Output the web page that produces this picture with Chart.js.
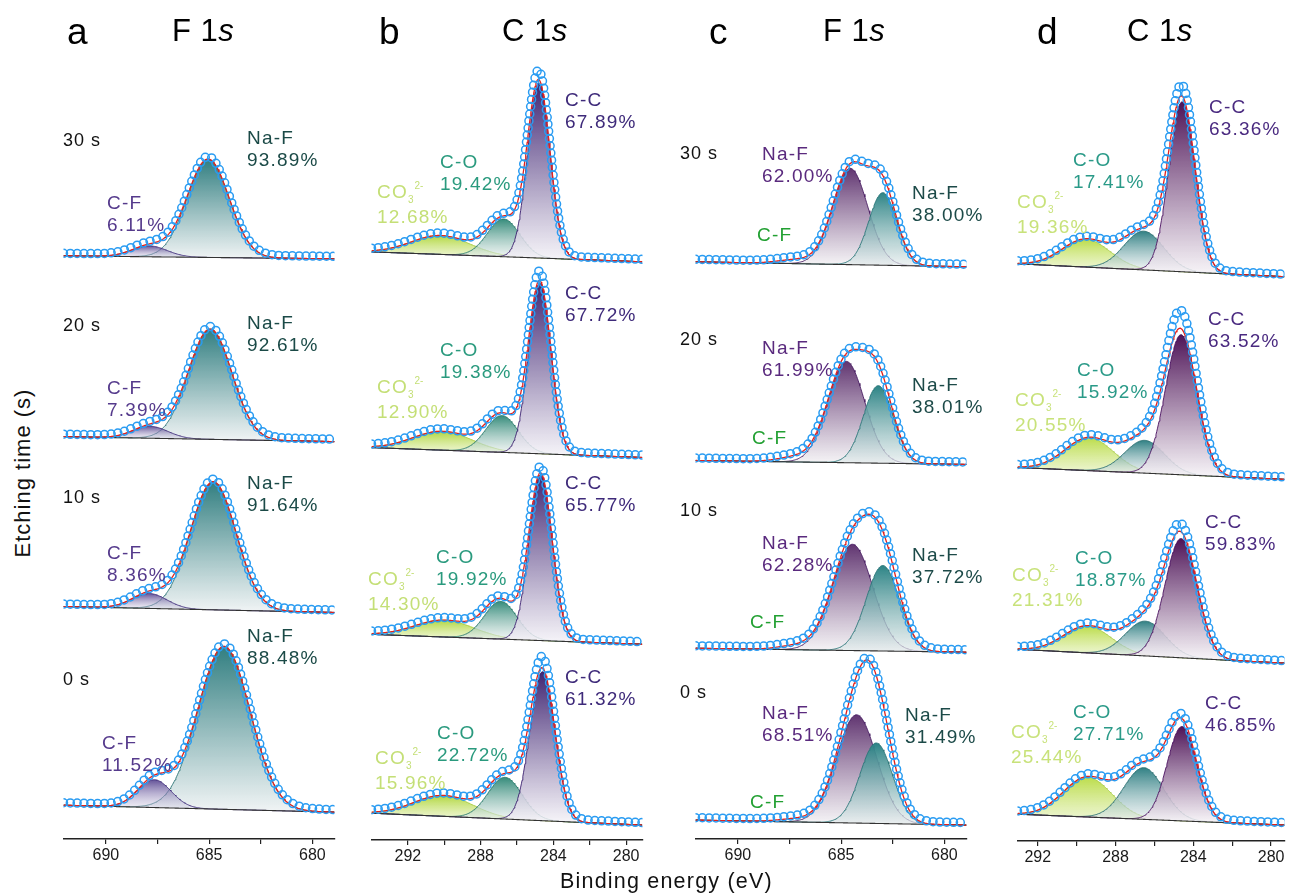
<!DOCTYPE html>
<html>
<head>
<meta charset="utf-8">
<script src="https://cdn.jsdelivr.net/npm/chart.js@4.4.1/dist/chart.umd.min.js"></script>
<style>
  body { margin: 0; background: #fff; width: 1290px; height: 895px; position: relative; overflow: hidden;
         font-family: "Liberation Sans", Arial, sans-serif; }
  .cv { position: absolute; top: 0; }
  .t { position: absolute; white-space: nowrap; }
  .lab { font-size: 19px; line-height: 22px; letter-spacing: 1.2px; }
  .time { font-size: 18px; line-height: 22px; letter-spacing: 1px; color: #111; }
  .sb { font-size: 10px; position: relative; top: 5px; letter-spacing: 0; }
  .sp { font-size: 10px; position: relative; top: -9px; letter-spacing: 0; margin-left: 1px; }
</style>
</head>
<body>
<script>
// ---------- panel a : F 1s ----------
const timesA  = ['30 s', '20 s', '10 s', '0 s'];
const bgHighA = [587, 405, 234, 34];      // background at 692 eV
const bgLowA  = [584, 400, 228, 27];      // background at 679 eV
const nafPosA = [685.05, 684.95, 684.8, 684.28];
const nafHtA  = [99, 111, 129, 164];
const nafFwA  = [2.4, 2.48, 2.6, 2.98];
const cfPosA  = [687.9, 687.85, 687.9, 687.65];
const cfHtA   = [11, 12, 15, 28];
const cfFwA   = [2.0, 2.0, 2.0, 1.9];
const nafPctA = ['93.89%', '92.61%', '91.64%', '88.48%'];
const cfPctA  = ['6.11%', '7.39%', '8.36%', '11.52%'];

// ---------- panel b : C 1s ----------
const bgHighB  = [592, 395, 207, 27];     // at 294 eV
const bgLowB   = [582, 385, 197, 15];     // at 279 eV
const ccPosB   = [284.8, 284.75, 284.7, 284.6];
const ccHtB    = [176, 172, 167, 150];
const ccFwB    = [1.45, 1.45, 1.5, 1.62];
const ccPeakB  = [183, 179, 171, 159];    // top of the measured points
const coPosB   = [286.74, 286.83, 286.9, 286.66];
const coHtB    = [38, 37, 38, 42];
const coFwB    = [2.1, 2.1, 2.1, 2.2];
const co3PosB  = [290.2, 290.1, 290.0, 290.05];
const co3HtB   = [19, 19, 17, 21];
const co3FwB   = [3.8, 3.8, 3.8, 3.8];
const ccPctB   = ['67.89%', '67.72%', '65.77%', '61.32%'];
const coPctB   = ['19.42%', '19.38%', '19.92%', '22.72%'];
const co3PctB  = ['12.68%', '12.90%', '14.30%', '15.96%'];

// ---------- panel c : F 1s ----------
const timesC   = ['30 s', '20 s', '10 s', '0 s'];
const bgHighC  = [581, 381, 192, 19];
const bgLowC   = [576, 377, 188, 14];
const naf1PosC = [684.56, 684.75, 684.45, 684.25];
const naf1HtC  = [97, 102, 107, 109];
const naf1FwC  = [2.0, 2.1, 2.3, 2.3];
const naf2PosC = [682.98, 683.2, 682.98, 683.3];
const naf2HtC  = [73, 78, 86, 81];
const naf2FwC  = [1.6, 1.7, 1.9, 1.86];
const cfPosC   = [687.2, 687.2, 687.2, 687.2];
const cfHtC    = [4, 5, 4, 3];
const cfFwC    = [2.0, 2.0, 2.0, 2.0];
const naf1PctC = ['62.00%', '61.99%', '62.28%', '68.51%'];
const naf2PctC = ['38.00%', '38.01%', '37.72%', '31.49%'];

// ---------- panel d : C 1s ----------
const bgHighD  = [581, 376, 193, 27];
const bgLowD   = [568, 364, 179, 16];
const ccPosD   = [284.58, 284.63, 284.63, 284.58];
const ccHtD    = [171, 141, 120, 95];
const ccFwD    = [1.6, 1.9, 1.95, 1.8];
const ccPeakD  = [180, 157, 126, 97];
const coPosD   = [286.55, 286.5, 286.47, 286.55];
const coHtD    = [39, 33, 35, 52];
const coFwD    = [2.4, 2.4, 2.4, 2.4];
const co3PosD  = [289.52, 289.35, 289.44, 289.44];
const co3HtD   = [28, 33, 27, 40];
const co3FwD   = [2.9, 2.95, 2.9, 2.95];
const ccPctD   = ['63.36%', '63.52%', '59.83%', '46.85%'];
const coPctD   = ['17.41%', '15.92%', '18.87%', '27.71%'];
const co3PctD  = ['19.36%', '20.55%', '21.31%', '25.44%'];

// measured points sit this far above the fitted background (a.u.)
const pointLift = 2.5;

// tick values
const ticksF = [690, 687.5, 685, 682.5, 680];
const labsF  = [690, 685, 680];
const ticksC = [292, 290, 288, 286, 284, 282, 280];
const labsC  = [292, 288, 284, 280];

// component styles
const styles = {
  nafA:  { top: 'rgba(42,122,124,0.97)', bottom: 'rgba(236,241,242,0.9)', line: '#2a7374' },
  cfA:   { top: 'rgba(78,58,138,0.88)',  bottom: 'rgba(205,200,225,0.35)', line: '#3f2d7a' },
  ccB:   { top: 'rgba(58,30,110,0.97)',  bottom: 'rgba(242,240,246,0.85)', line: '#3a1e6e' },
  coB:   { top: 'rgba(36,130,112,0.92)', bottom: 'rgba(228,237,234,0.6)', line: '#2a7a6c' },
  co3B:  { top: 'rgba(176,214,60,0.97)', bottom: 'rgba(226,240,180,0.75)', line: '#a8cc40' },
  naf1C: { top: 'rgba(88,42,105,0.95)',  bottom: 'rgba(242,240,243,0.8)', line: '#4a1f63' },
  naf2C: { top: 'rgba(38,128,130,0.97)', bottom: 'rgba(228,235,236,0.7)', line: '#2a7678' },
  ccD:   { top: 'rgba(72,12,82,0.97)',   bottom: 'rgba(243,239,244,0.85)', line: '#4a1060' },
  coD:   { top: 'rgba(38,122,126,0.95)', bottom: 'rgba(226,234,235,0.6)', line: '#2a6f72' },
  co3D:  { top: 'rgba(186,220,70,0.97)', bottom: 'rgba(228,241,186,0.75)', line: '#a9cc4a' }
};

function gauss(x, c, h, fw) {
  const s = fw / 2.3548, d = (x - c) / s;
  return h * Math.exp(-0.5 * d * d);
}

function drawPanel(left, width, axisY, min, max, tickVals, tickLabs, traces) {
  const cv = document.createElement('canvas');
  cv.width = width; cv.height = 895; cv.className = 'cv'; cv.style.left = left + 'px';
  document.body.appendChild(cv);
  const pxX = width / (max - min);
  const grid = [];
  for (let x = max; x >= min - 1e-9; x -= 0.04) grid.push(x);
  const datasets = [];

  traces.forEach(tr => {
    const bg = x => tr.bgLow + (tr.bgHigh - tr.bgLow) * (x - min) / (max - min);
    const fit = x => bg(x) + tr.comps.reduce((s, c) => s + gauss(x, c.pos, c.ht, c.fw), 0);
    const meas = x => pointLift + bg(x) + tr.comps.reduce((s, c) => s + gauss(x, c.pos, c.peak || c.ht, c.fw), 0);

    const baseIdx = datasets.length;
    datasets.push({ data: grid.map(x => ({ x, y: bg(x) })), borderColor: '#333', borderWidth: 1.1,
                    pointRadius: 0, fill: false, order: 50 });
    tr.comps.forEach((c, j) => {
      if (!c.style) return;
      const st = styles[c.style];
      const yb = bg(c.pos);
      datasets.push({
        data: grid.map(x => ({ x, y: bg(x) + gauss(x, c.pos, c.ht, c.fw) })),
        borderColor: st.line, borderWidth: 0.9, pointRadius: 0, fill: baseIdx, order: 100 - j,
        backgroundColor: ctx => {
          const ch = ctx.chart;
          if (!ch.chartArea) return st.top;
          const ys = ch.scales.y;
          const g = ch.ctx.createLinearGradient(0, ys.getPixelForValue(yb + c.ht), 0, ys.getPixelForValue(yb));
          g.addColorStop(0, st.top); g.addColorStop(1, st.bottom);
          return g;
        }
      });
    });
    datasets.push({ data: grid.map(x => ({ x, y: fit(x) })), borderColor: '#e3211c', borderWidth: 1.3,
                    pointRadius: 0, fill: false, order: 20 });
    // measured points, spaced evenly along the trace
    const pts = [];
    let px = null, py = null, acc = 99;
    for (let x = max; x >= min; x -= 0.005) {
      const y = meas(x);
      if (px !== null) acc += Math.hypot((px - x) * pxX, y - py);
      if (acc >= 7) { pts.push({ x, y }); acc = 0; }
      px = x; py = y;
    }
    datasets.push({ data: pts, showLine: false, pointRadius: 4, pointBorderWidth: 1.5,
                    pointBorderColor: '#2a9cf2', pointBackgroundColor: 'rgba(255,255,255,0)', order: 10 });
  });

  return new Chart(cv, {
    type: 'line',
    data: { datasets },
    options: {
      responsive: false, animation: false, events: [],
      layout: { padding: 0 },
      plugins: { legend: { display: false }, tooltip: { enabled: false } },
      elements: { line: { tension: 0 } },
      scales: {
        x: {
          type: 'linear', reverse: true, min, max,
          afterBuildTicks: ax => { ax.ticks = tickVals.map(v => ({ value: v })); },
          afterFit: ax => { ax.height = 895 - axisY; },
          ticks: { autoSkip: false, maxRotation: 0, padding: 2, color: '#1a1a1a',
                   font: { family: 'Liberation Sans', size: 16 },
                   callback: v => tickLabs.includes(v) ? String(v) : '' },
          grid: { drawOnChartArea: false, drawTicks: true, tickLength: 5, color: '#222', lineWidth: 1.2 },
          border: { display: true, color: '#222', width: 1.5 }
        },
        y: { display: false, min: 0, max: axisY }
      }
    }
  });
}

function comp(pos, ht, fw, style, peak) { return { pos, ht, fw, style, peak }; }

const tracesA = timesA.map((t, i) => ({ bgHigh: bgHighA[i], bgLow: bgLowA[i], comps: [
  comp(nafPosA[i], nafHtA[i], nafFwA[i], 'nafA'),
  comp(cfPosA[i], cfHtA[i], cfFwA[i], 'cfA') ] }));
const tracesB = ccPosB.map((p, i) => ({ bgHigh: bgHighB[i], bgLow: bgLowB[i], comps: [
  comp(co3PosB[i], co3HtB[i], co3FwB[i], 'co3B'),
  comp(coPosB[i], coHtB[i], coFwB[i], 'coB'),
  comp(ccPosB[i], ccHtB[i], ccFwB[i], 'ccB', ccPeakB[i]) ] }));
const tracesC = timesC.map((t, i) => ({ bgHigh: bgHighC[i], bgLow: bgLowC[i], comps: [
  comp(cfPosC[i], cfHtC[i], cfFwC[i], null),
  comp(naf1PosC[i], naf1HtC[i], naf1FwC[i], 'naf1C'),
  comp(naf2PosC[i], naf2HtC[i], naf2FwC[i], 'naf2C') ] }));
const tracesD = ccPosD.map((p, i) => ({ bgHigh: bgHighD[i], bgLow: bgLowD[i], comps: [
  comp(co3PosD[i], co3HtD[i], co3FwD[i], 'co3D'),
  comp(coPosD[i], coHtD[i], coFwD[i], 'coD'),
  comp(ccPosD[i], ccHtD[i], ccFwD[i], 'ccD', ccPeakD[i]) ] }));

drawPanel(58, 282, 839, 678.93, 692.05, ticksF, labsF, tracesA);
drawPanel(366, 282, 840, 279.1, 294.0, ticksC, labsC, tracesB);
drawPanel(690, 282, 839, 678.93, 692.05, ticksF, labsF, tracesC);
drawPanel(1012, 278, 841, 279.31, 293.04, ticksC, labsC, tracesD);

// ---------- text ----------
function addText(html, x, y, cls, color, extra) {
  const d = document.createElement('div');
  d.className = 't ' + cls; d.innerHTML = html;
  d.style.left = x + 'px'; d.style.top = y + 'px';
  if (color) d.style.color = color;
  if (extra) Object.assign(d.style, extra);
  document.body.appendChild(d);
}
function label(name, pct, pos, color) {
  addText(pct ? name + '<br>' + pct : name, pos[0], pos[1] - 11, 'lab', color);
}
const CO3 = 'CO<span class="sb">3</span><span class="sp">2-</span>';

// panel titles
[['a', 67], ['b', 379], ['c', 709], ['d', 1037]].forEach(([s, x]) =>
  addText(s, x, 13, '', '#000', { fontSize: '37px', lineHeight: '37px' }));
[['F 1<i>s</i>', 172], ['C 1<i>s</i>', 502], ['F 1<i>s</i>', 823], ['C 1<i>s</i>', 1127]].forEach(([s, x]) =>
  addText(s, x, 15, '', '#000', { fontSize: '31px', lineHeight: '31px', letterSpacing: '0.5px' }));

// axis titles
addText('Binding energy (eV)', 560, 871, '', '#111', { fontSize: '21.5px', lineHeight: '21.5px', letterSpacing: '1.2px' });
addText('Etching time (s)', 23, 473, '', '#111', { fontSize: '22px', lineHeight: '22px', letterSpacing: '1px',
  transform: 'translate(-50%,-50%) rotate(-90deg)' });

// label layout (page pixels: left, centre of first line)
const posTimeA = [[63, 140], [63, 325], [63, 497], [63, 679]];
const posNafA  = [[247, 138], [247, 323], [247, 483], [247, 636]];
const posCfA   = [[107, 203], [107, 388], [107, 553], [102, 743]];
const posCcB   = [[565, 100], [565, 293], [565, 483], [565, 677]];
const posCoB   = [[440, 162], [440, 350], [436, 557], [437, 733]];
const posCo3B  = [[377, 192], [377, 387], [368, 579], [375, 758]];
const posTimeC = [[680, 153], [680, 339], [680, 510], [680, 692]];
const posNaf1C = [[762, 154], [762, 348], [762, 543], [762, 713]];
const posNaf2C = [[912, 193], [912, 385], [912, 555], [905, 715]];
const posCfC   = [[757, 235], [752, 438], [750, 622], [750, 802]];
const posCcD   = [[1209, 107], [1208, 319], [1205, 522], [1205, 703]];
const posCoD   = [[1073, 160], [1077, 370], [1075, 558], [1073, 712]];
const posCo3D  = [[1017, 202], [1015, 400], [1012, 575], [1011, 732]];

timesA.forEach((t, i) => {
  addText(t, posTimeA[i][0], posTimeA[i][1] - 11, 'time');
  label('Na-F', nafPctA[i], posNafA[i], '#1b4a47');
  label('C-F', cfPctA[i], posCfA[i], '#553a8c');
  label('C-C', ccPctB[i], posCcB[i], '#3e2a7a');
  label('C-O', coPctB[i], posCoB[i], '#2a9a7e');
  label(CO3, co3PctB[i], posCo3B[i], '#c4df76');
  addText(timesC[i], posTimeC[i][0], posTimeC[i][1] - 11, 'time');
  label('Na-F', naf1PctC[i], posNaf1C[i], '#5a2a7e');
  label('Na-F', naf2PctC[i], posNaf2C[i], '#1c4a48');
  label('C-F', null, posCfC[i], '#22a032');
  label('C-C', ccPctD[i], posCcD[i], '#4a2a80');
  label('C-O', coPctD[i], posCoD[i], '#2a9a88');
  label(CO3, co3PctD[i], posCo3D[i], '#c8e27a');
});
</script>
</body>
</html>
